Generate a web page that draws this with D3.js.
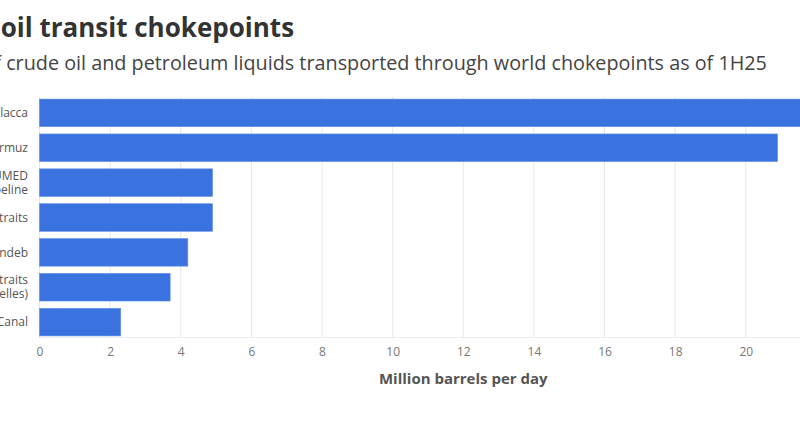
<!DOCTYPE html>
<html>
<head>
<meta charset="utf-8">
<script src="https://cdn.jsdelivr.net/npm/d3@7.9.0/dist/d3.min.js"></script>
<style>
  body { margin: 0; background: #fff; }
  svg { display: block; font-family: "Open Sans", "Noto Sans", sans-serif; }
  .tick text { fill: #777; font-size: 12px; }
  .label { fill: #555; font-size: 12px; }
</style>
</head>
<body>
<svg id="chart" width="800" height="445"></svg>
<script>
const titleText = "World oil transit chokepoints";
const titleHidden = "World ";
const subtitleText = "Volume of crude oil and petroleum liquids transported through world chokepoints as of 1H25";
const subtitleHidden = "Volume of ";

const chokepoints = [
  ["Strait of Malacca"],
  ["Strait of Hormuz"],
  ["Suez Canal and SUMED", "Pipeline"],
  ["Danish Straits"],
  ["Bab el-Mandeb"],
  ["Turkish Straits", "(Bosporus/Dardanelles)"],
  ["Panama Canal"],
];
const volumes = [23.2, 20.9, 4.9, 4.9, 4.2, 3.7, 2.3];
const xTicks = [0, 2, 4, 6, 8, 10, 12, 14, 16, 18, 20, 22, 24];

const svg = d3.select("#chart");
const margin = { left: 39.5, top: 97, bottom: 107 };
const plotRight = 887;
const plotBottom = 445 - margin.bottom;

// titles, shifted left so the hidden prefix is cropped off the frame
function croppedText(text, hidden, x0, y, size, weight, color) {
  const t = svg.append("text")
    .attr("y", y)
    .attr("font-size", size)
    .attr("font-weight", weight)
    .attr("fill", color)
    .text(hidden);
  const w = t.node().getComputedTextLength();
  t.text(text).attr("x", x0 - w);
}
croppedText(titleText, titleHidden, -6, 37, 26, 700, "#333");
croppedText(subtitleText, subtitleHidden, 1, 70, 19.8, 400, "#444");

const x = d3.scaleLinear().domain([0, 24]).range([margin.left, plotRight]);
const y = d3.scaleBand()
  .domain(d3.range(chokepoints.length))
  .range([margin.top, plotBottom])
  .paddingInner(0.21)
  .paddingOuter(0.06);

// gridlines
svg.append("g")
  .selectAll("line")
  .data(xTicks)
  .join("line")
  .attr("x1", (d) => x(d))
  .attr("x2", (d) => x(d))
  .attr("y1", margin.top)
  .attr("y2", plotBottom)
  .attr("stroke", "#e8e8e8")
  .attr("stroke-width", 1);

svg.append("line")
  .attr("x1", margin.left)
  .attr("x2", plotRight)
  .attr("y1", plotBottom - 0.5)
  .attr("y2", plotBottom - 0.5)
  .attr("stroke", "#ececec");

// bars
svg.append("g")
  .selectAll("rect")
  .data(volumes)
  .join("rect")
  .attr("x", x(0))
  .attr("y", (d, i) => y(i))
  .attr("width", (d) => x(d) - x(0))
  .attr("height", y.bandwidth())
  .attr("fill", "#3a73e0")
  .attr("stroke", "#5c8ce8")
  .attr("stroke-width", 0.6);

// category labels
const labels = svg.append("g")
  .selectAll("text")
  .data(chokepoints)
  .join("text")
  .attr("class", "label")
  .attr("text-anchor", "end")
  .attr("x", 28)
  .attr("y", (d, i) => y(i) + y.bandwidth() / 2 - (d.length - 1) * 7);
labels.selectAll("tspan")
  .data((d) => d)
  .join("tspan")
  .attr("x", 28)
  .attr("dy", (d, i) => (i === 0 ? "0.35em" : "14"))
  .text((d) => d);

// x axis
const xAxis = svg.append("g")
  .attr("transform", `translate(0,${plotBottom})`)
  .call(d3.axisBottom(x).tickValues(xTicks).tickSize(0).tickPadding(9));
xAxis.select(".domain").remove();
xAxis.selectAll("text").attr("font-family", "Open Sans, sans-serif");

svg.append("text")
  .attr("x", (margin.left + plotRight) / 2)
  .attr("y", 384)
  .attr("text-anchor", "middle")
  .attr("font-size", 15)
  .attr("font-weight", 700)
  .attr("fill", "#555")
  .text("Million barrels per day");
</script>
</body>
</html>
